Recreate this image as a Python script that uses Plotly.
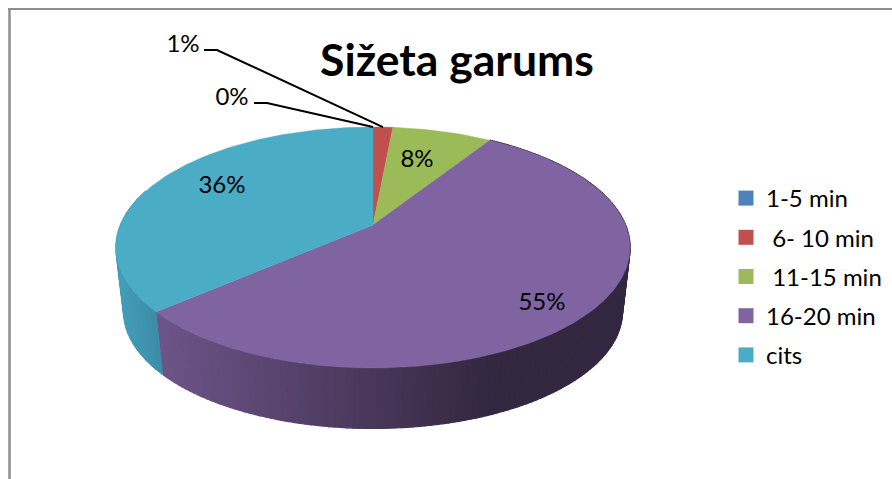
import math
import plotly.graph_objects as go

# ---- data ----
categories = ["1-5 min", "\u00a06- 10 min", "\u00a011-15 min", "16-20 min", "cits"]
values = [0.0, 1.49, 7.51, 54.6, 36.4]
colors = ["#4F81BD", "#C0504D", "#9BBB59", "#8064A2", "#4BACC6"]
title_text = "Sižeta garums"

# ---- style / projection (pixel space of the 892x479 picture) ----
FONT = "Lato, Carlito, Calibri, sans-serif"
CX, K = 373.0, 0.1867
TOP = dict(y0=225.0, rx=252.6, ry=116.3)
BOT = dict(y0=290.0, rx=245.0, ry=112.6)
label_pos = [(232, 98.5), (183, 46), (417, 160.5), (542, 304), (222, 186.5)]
leader_elbows = {0: [(254, 103), (267, 103)], 1: [(204, 50), (217, 50)]}


def project(frac, disk):
    a = 2 * math.pi * frac
    u, v = math.sin(a), math.cos(a)
    d = 1 + K * v
    return CX + disk["rx"] * u / d, disk["y0"] - disk["ry"] * v / d


def mix(c1, c2, t):
    t = max(0.0, min(1.0, t))
    return "rgb(%d,%d,%d)" % tuple(round(a + (b - a) * t) for a, b in zip(c1, c2))


total = sum(values)
edges = [0.0]
for val in values:
    edges.append(edges[-1] + val / total)

fig = go.Figure()

# side walls
def wall(f0, f1, n, colour_at):
    for i in range(n):
        a = f0 + (f1 - f0) * i / n
        b = f0 + (f1 - f0) * (i + 1) / n
        xs, ys = [], []
        for f, d in ((a, TOP), (b, TOP), (b, BOT), (a, BOT), (a, TOP)):
            px, py = project(f, d)
            xs.append(px)
            ys.append(py)
        col = colour_at((xs[0] + xs[1]) / 2)
        fig.add_trace(go.Scatter(x=xs, y=ys, mode="lines", fill="toself", fillcolor=col,
                                 line=dict(color=col, width=1.2), hoverinfo="skip",
                                 showlegend=False))


wall(edges[3], edges[4], 170,
     lambda x: mix((0x6C, 0x54, 0x88), (0x34, 0x27, 0x40), (x - 158) / (490 - 158)))
wall(edges[4], 0.80, 24,
     lambda x: mix((0x42, 0x9C, 0xB6), (0x3C, 0x8A, 0xA6), (x - 120) / 40))

# top surface
for i, (name, col) in enumerate(zip(categories, colors)):
    n = max(2, int((edges[i + 1] - edges[i]) * 360))
    pts = [project(edges[i] + (edges[i + 1] - edges[i]) * j / n, TOP) for j in range(n + 1)]
    xs = [CX] + [p[0] for p in pts] + [CX]
    ys = [TOP["y0"]] + [p[1] for p in pts] + [TOP["y0"]]
    fig.add_trace(go.Scatter(x=xs, y=ys, mode="lines", fill="toself", fillcolor=col,
                             line=dict(color=col, width=0.4), hoverinfo="skip", showlegend=False))

# leader lines
for i, elbow in leader_elbows.items():
    end = project((edges[i] + edges[i + 1]) / 2, TOP)
    fig.add_trace(go.Scatter(x=[p[0] for p in elbow] + [end[0]], y=[p[1] for p in elbow] + [end[1]],
                             mode="lines", line=dict(color="#000000", width=2),
                             hoverinfo="skip", showlegend=False))

# percent labels
fig.add_trace(go.Scatter(x=[p[0] for p in label_pos], y=[p[1] for p in label_pos], mode="text",
                         text=["%d%%" % round(v / total * 100) for v in values],
                         textposition="middle center",
                         textfont=dict(family=FONT, size=24, color="#000000"),
                         hoverinfo="skip", showlegend=False))

# legend entries
for i, (name, col) in enumerate(zip(categories, colors)):
    fig.add_trace(go.Scatter(x=[None], y=[None], mode="markers", name=name, legendgroup=str(i),
                             marker=dict(symbol="square", size=15, color=col)))

fig.update_layout(
    width=892, height=479,
    margin=dict(l=0, r=0, t=0, b=0),
    paper_bgcolor="#FFFFFF", plot_bgcolor="#FFFFFF",
    xaxis=dict(visible=False, range=[0, 892], fixedrange=True),
    yaxis=dict(visible=False, range=[479, 0], fixedrange=True),
    title=dict(text="<b>%s</b>" % title_text, x=457 / 892, y=1 - 60 / 479,
               xanchor="center", yanchor="middle",
               font=dict(family=FONT, size=44.5, color="#000000")),
    legend=dict(x=726 / 892, y=1 - 176 / 479, xanchor="left", yanchor="top",
                font=dict(family=FONT, size=24, color="#000000"),
                tracegroupgap=5, bgcolor="rgba(0,0,0,0)", itemsizing="trace"),
    shapes=[
        dict(type="line", xref="paper", yref="paper", x0=9.5 / 892, x1=9.5 / 892, y0=0, y1=1 - 8 / 479,
             line=dict(color="#8E8E8E", width=2.5)),
        dict(type="line", xref="paper", yref="paper", x0=8 / 892, x1=1, y0=1 - 9 / 479, y1=1 - 9 / 479,
             line=dict(color="#8E8E8E", width=2)),
    ],
)

fig.write_html("out.html", config={"displayModeBar": False},
               post_script="document.body.style.margin='0';document.body.style.overflow='hidden';")
